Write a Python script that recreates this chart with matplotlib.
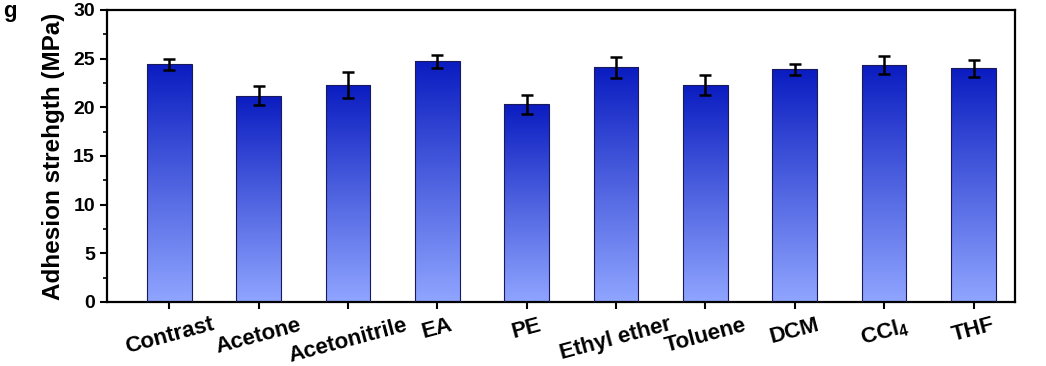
import matplotlib
matplotlib.use('Agg')
import matplotlib.pyplot as plt
import numpy as np
from matplotlib.colors import LinearSegmentedColormap

categories = ["Contrast", "Acetone", "Acetonitrile", "EA", "PE", "Ethyl ether",
              "Toluene", "DCM", r"CCl$_\mathbf{4}$", "THF"]
strength = [24.4, 21.2, 22.3, 24.7, 20.3, 24.1, 22.3, 23.9, 24.35, 24.0]
errors = [0.6, 0.95, 1.3, 0.7, 0.95, 1.05, 1.05, 0.55, 0.95, 0.9]

plt.rcParams['font.family'] = ['Liberation Sans', 'DejaVu Sans']
plt.rcParams['font.weight'] = 'bold'
plt.rcParams['mathtext.fontset'] = 'custom'
plt.rcParams['mathtext.rm'] = 'Liberation Sans:bold'
plt.rcParams['mathtext.bf'] = 'Liberation Sans:bold'

fig, ax = plt.subplots(figsize=(10.46, 3.66), dpi=100)
fig.subplots_adjust(left=0.102, right=0.970, top=0.973, bottom=0.175)

cmap = LinearSegmentedColormap.from_list("blues", ["#90a5ff", "#4e62e0", "#0a1cc0"])
grad = np.linspace(0, 1, 256).reshape(-1, 1)

x = np.arange(len(categories))
bars = ax.bar(x, strength, width=0.5, color='none', edgecolor='#1a1a5a', linewidth=0.8, zorder=3)
for bar in bars:
    x0, w, h = bar.get_x(), bar.get_width(), bar.get_height()
    im = ax.imshow(grad, extent=(x0, x0 + w, 0, h), origin='lower', cmap=cmap,
                   aspect='auto', zorder=2)
    im.set_clip_path(bar)

ax.errorbar(x, strength, yerr=errors, fmt='none', ecolor='black', elinewidth=1.8,
            capsize=4, capthick=1.8, zorder=4)

ax.set_xlim(-0.7, 9.46)
ax.set_ylim(0, 30)
ax.set_yticks([0, 5, 10, 15, 20, 25, 30])
ax.set_yticks(np.arange(2.5, 30, 5), minor=True)
ax.set_xticks(x)
ax.set_xticklabels(categories, rotation=15, fontsize=16, fontweight='bold')
ax.tick_params(axis='y', labelsize=14, width=1.5, length=5)
ax.tick_params(axis='y', which='minor', width=1.2, length=3)
ax.tick_params(axis='x', width=1.5, length=5, pad=4)
for s in ax.spines.values():
    s.set_linewidth(1.6)
ax.set_ylabel("Adhesion strehgth (MPa)", fontsize=17.5, fontweight='bold', labelpad=6)

fig.text(0.003, 0.998, "g", fontsize=16, fontweight='bold', va='top', ha='left')

fig.savefig("out.png", dpi=100)
